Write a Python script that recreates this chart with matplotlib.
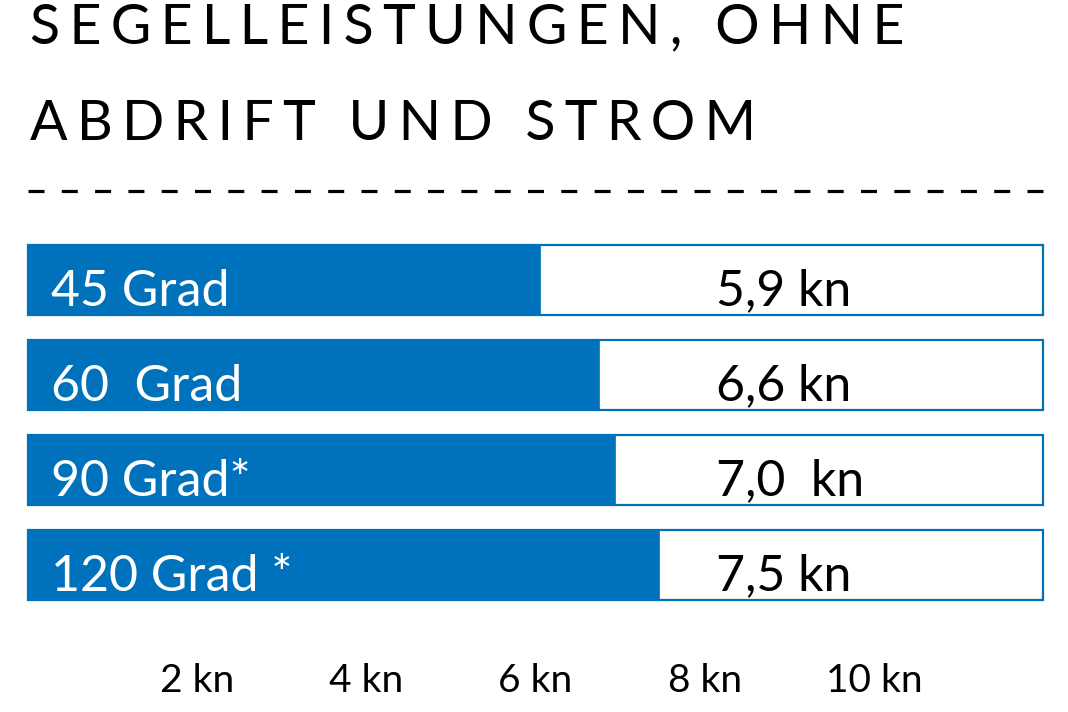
import matplotlib
matplotlib.use("Agg")
import matplotlib.pyplot as plt
from matplotlib.lines import Line2D

# ---- data ----
title_lines = ["SEGELLEISTUNGEN, OHNE", "ABDRIFT UND STROM"]
categories = ["45 Grad", "60  Grad", "90 Grad*", "120 Grad *"]
bar_lengths = [6.05, 6.75, 6.94, 7.46]          # filled part (kn)
value_labels = ["5,9 kn", "6,6 kn", "7,0  kn", "7,5 kn"]
scale_max = 12
tick_values = [2, 4, 6, 8, 10]
tick_labels = ["2 kn", "4 kn", "6 kn", "8 kn", "10 kn"]

BLUE = "#0071BB"
FAM = ["Lato", "DejaVu Sans"]
plt.rcParams["font.family"] = FAM

W, H = 1068, 712
fig = plt.figure(figsize=(W / 100, H / 100), dpi=100)
fig.patch.set_facecolor("white")
renderer = fig.canvas.get_renderer()

# ---- title with letter spacing (choose spacing that best fits the target width) ----
separators = ["\u200a", "\u2006", "\u2009", "\u2005", "\u2004",
              "\u200a\u200a", "\u2006\u200a", "\u2009\u200a"]
targets = [(43, 872), (140, 720)]
for line, (base_px, target_w) in zip(title_lines, targets):
    t = fig.text(30 / W, 1 - base_px / H, line, fontsize=40, color="black",
                 ha="left", va="baseline", family=FAM)
    best, best_err = None, None
    for sep in separators:
        t.set_text(sep.join(list(line)))
        w = t.get_window_extent(renderer).width
        err = abs(w - target_w)
        if best_err is None or err < best_err:
            best, best_err = sep, err
    t.set_text(best.join(list(line)))

# ---- dashed rule ----
lw_px = 3.2
lw_pt = lw_px * 72 / 100
on_px, off_px = 16, 17.3
dash = Line2D([28 / W, 1043 / W], [1 - 191 / H, 1 - 191 / H], transform=fig.transFigure,
              color="black", linewidth=lw_pt, solid_capstyle="butt", dash_capstyle="butt",
              linestyle=(0, (on_px / lw_px, off_px / lw_px)))
fig.add_artist(dash)

# ---- bars ----
ax_left, ax_right = 28 / W, 1043 / W
ax_top_px, ax_bot_px = 232.5, 612.5
ax = fig.add_axes([ax_left, 1 - ax_bot_px / H, ax_right - ax_left, (ax_bot_px - ax_top_px) / H])
ax.set_facecolor("none")
ypos = list(range(len(categories)))
bar_h = 70 / 95

ax.barh(ypos, [scale_max] * len(ypos), height=bar_h, color="white", edgecolor=BLUE,
        linewidth=1.6, clip_on=False, zorder=1)
ax.barh(ypos, bar_lengths, height=bar_h, color=BLUE, edgecolor=BLUE, linewidth=0.5,
        clip_on=False, zorder=2)

ax.set_xlim(0, scale_max)
ax.set_ylim(len(categories) - 0.5, -0.5)

for i, (cat, val) in enumerate(zip(categories, value_labels)):
    ax.annotate(cat, xy=(0, i), xycoords="data", xytext=(23 * 0.72, -26 * 0.72),
                textcoords="offset points", ha="left", va="baseline", color="white",
                fontsize=36, family=FAM, zorder=3)
    ax.annotate(val, xy=((716 - 28) / (1043 - 28), i), xycoords=("axes fraction", "data"),
                xytext=(0, -25 * 0.72), textcoords="offset points", ha="left", va="baseline",
                color="black", fontsize=36, family=FAM, zorder=3)

ax.set_xticks(tick_values)
ax.set_xticklabels(tick_labels, fontsize=28, color="black", family=FAM)
ax.tick_params(axis="x", length=0, pad=36)
ax.set_yticks([])
for sp in ax.spines.values():
    sp.set_visible(False)

fig.savefig("out.png", dpi=100, facecolor="white")
